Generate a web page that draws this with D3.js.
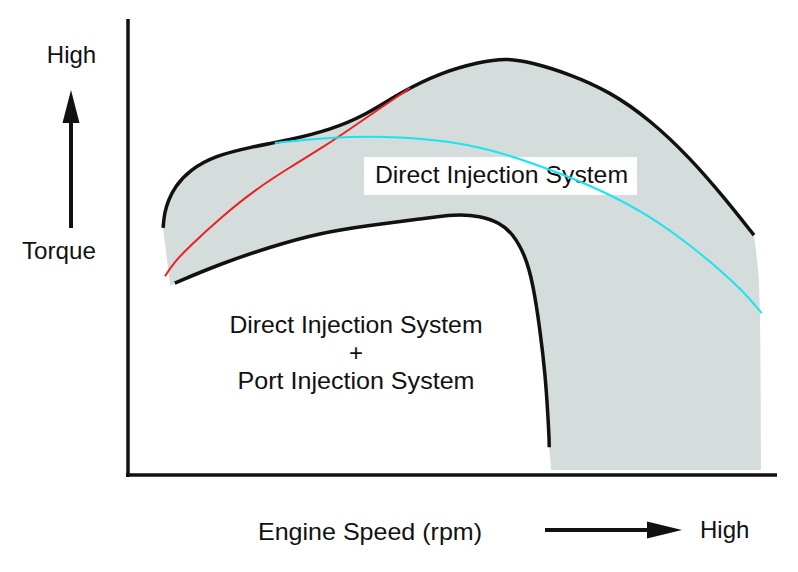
<!DOCTYPE html>
<html>
<head>
<meta charset="utf-8">
<script src="https://cdn.jsdelivr.net/npm/d3@7"></script>
<style>
  html, body { margin: 0; padding: 0; background: #fff; }
  svg { display: block; }
  text { font-family: "Liberation Sans", Arial, sans-serif; fill: #111; }
</style>
</head>
<body>
<svg id="chart" width="798" height="572"></svg>
<script>
// ---- Data (engine speed % of range, torque % of range) ----
const upperSpeed  = [5.4, 5.6, 6.2, 7.2, 9.5, 13.4, 18.8, 24.9, 31.1, 36.5, 41.8, 48.0, 54.2, 58.0, 61.8, 68.0, 74.2, 80.3, 86.5, 91.8, 96.3];
const upperTorque = [54.2, 57.5, 60.2, 63.2, 66.9, 70.0, 71.9, 73.5, 75.7, 78.9, 83.8, 88.2, 90.6, 91.4, 90.6, 87.9, 84.0, 77.9, 69.5, 60.7, 52.6];

const lowerSpeed  = [7.2, 14.2, 21.8, 29.5, 37.2, 44.9, 50.3, 54.2, 57.2, 59.2, 61.1, 62.3, 63.4, 64.2, 64.6, 64.8, 64.8];
const lowerTorque = [42.1, 46.3, 50.0, 53.1, 54.8, 56.1, 57.2, 56.8, 55.3, 52.9, 48.2, 42.1, 31.8, 21.9, 13.2, 7.5, 6.1];

const edgeSpeed   = [96.3, 96.9, 97.2, 97.4];
const edgeTorque  = [52.6, 45.6, 36.2, 1.1];
const floorSpeed  = [97.4, 65.1];
const floorTorque = [1.1, 1.1];
const leftSpeed   = [7.2, 6.5, 5.4];
const leftTorque  = [42.1, 41.4, 54.2];

const redSpeed    = [5.7, 7.0, 9.5, 14.2, 19.5, 24.9, 30.3, 35.7, 39.5, 42.5, 43.4];
const redTorque   = [43.6, 46.5, 50.2, 56.4, 62.5, 67.5, 72.1, 77.4, 81.1, 84.0, 84.9];

const cyanSpeed   = [22.6, 31.1, 39.5, 48.0, 55.7, 63.4, 71.1, 78.8, 84.9, 91.1, 94.9, 97.5];
const cyanTorque  = [72.8, 74.1, 74.3, 73.5, 71.5, 67.8, 63.6, 58.1, 52.2, 45.0, 39.9, 35.5];

const labelDI     = "Direct Injection System";
const labelBoth   = ["Direct Injection System", "+", "Port Injection System"];
const labelYHigh  = "High";
const labelYAxis  = "Torque";
const labelXAxis  = "Engine Speed (rpm)";
const labelXHigh  = "High";

// ---- Scales ----
const svg = d3.select("#chart");
const x = d3.scaleLinear().domain([0, 100]).range([128, 778]);
const y = d3.scaleLinear().domain([0, 100]).range([475, 19]);

const zip = (a, b) => a.map((v, i) => [v, b[i]]);
const smooth = d3.line().x(d => x(d[0])).y(d => y(d[1])).curve(d3.curveBasis);
const soft = d3.line().x(d => x(d[0])).y(d => y(d[1])).curve(d3.curveCatmullRom.alpha(0.5));
const straight = d3.line().x(d => x(d[0])).y(d => y(d[1]));

const upper = zip(upperSpeed, upperTorque);
const lower = zip(lowerSpeed, lowerTorque);
const edge = zip(edgeSpeed, edgeTorque);
const floor = zip(floorSpeed, floorTorque);
const left = zip(leftSpeed, leftTorque);

// ---- Grey region ----
const join = (s) => s.replace(/^M/, "L");
const regionPath =
  smooth(upper) +
  join(soft(edge)) +
  join(straight(floor)) +
  join(smooth(lower.slice().reverse())) +
  join(straight(left)) + "Z";

svg.append("path").attr("d", regionPath).attr("fill", "#d4dcdc").attr("stroke", "none");

// ---- Label box for Direct Injection ----
const boxG = svg.append("g");
boxG.append("rect")
  .attr("x", 364).attr("y", 157).attr("width", 273).attr("height", 38)
  .attr("fill", "#fff");
boxG.append("text")
  .attr("x", 375).attr("y", 183)
  .attr("font-size", 24)
  .attr("textLength", 253).attr("lengthAdjust", "spacingAndGlyphs")
  .text(labelDI);

// ---- Boundary curves ----
svg.append("path").attr("d", smooth(upper))
  .attr("fill", "none").attr("stroke", "#111").attr("stroke-width", 3.5);
svg.append("path").attr("d", smooth(lower))
  .attr("fill", "none").attr("stroke", "#111").attr("stroke-width", 3.5);

// ---- Red and cyan curves ----
svg.append("path").attr("d", smooth(zip(redSpeed, redTorque)))
  .attr("fill", "none").attr("stroke", "#e8231d").attr("stroke-width", 2);
svg.append("path").attr("d", smooth(zip(cyanSpeed, cyanTorque)))
  .attr("fill", "none").attr("stroke", "#1ae4ef").attr("stroke-width", 2);

// ---- Axes ----
svg.append("line")
  .attr("x1", x(0)).attr("x2", x(0)).attr("y1", y(100)).attr("y2", y(0) + 2)
  .attr("stroke", "#111").attr("stroke-width", 3.5);
svg.append("line")
  .attr("x1", x(0) - 2).attr("x2", x(100) - 1).attr("y1", y(0)).attr("y2", y(0))
  .attr("stroke", "#111").attr("stroke-width", 3.5);

// ---- Lower-left region label ----
const bothLen = [253, null, 237];
const bothG = svg.append("g").attr("text-anchor", "middle");
bothG.selectAll("text").data(labelBoth).enter().append("text")
  .attr("x", 356)
  .attr("y", (d, i) => 333 + i * 28)
  .attr("font-size", 24)
  .each(function (d, i) {
    if (bothLen[i]) d3.select(this).attr("textLength", bothLen[i]).attr("lengthAdjust", "spacingAndGlyphs");
  })
  .text(d => d);

// ---- Y-axis annotation ----
svg.append("text").attr("x", 71.5).attr("y", 63).attr("text-anchor", "middle")
  .attr("font-size", 24).text(labelYHigh);
svg.append("text").attr("x", 59).attr("y", 259).attr("text-anchor", "middle")
  .attr("font-size", 24).attr("textLength", 74).attr("lengthAdjust", "spacingAndGlyphs")
  .text(labelYAxis);
svg.append("line").attr("x1", 71).attr("x2", 71).attr("y1", 228).attr("y2", 118)
  .attr("stroke", "#111").attr("stroke-width", 4);
svg.append("path").attr("d", "M71,90 L79.5,123 L62.5,123 Z").attr("fill", "#111");

// ---- X-axis annotation ----
svg.append("text").attr("x", 258).attr("y", 540)
  .attr("font-size", 24).attr("textLength", 224).attr("lengthAdjust", "spacingAndGlyphs")
  .text(labelXAxis);
svg.append("line").attr("x1", 545).attr("x2", 652).attr("y1", 530).attr("y2", 530)
  .attr("stroke", "#111").attr("stroke-width", 4);
svg.append("path").attr("d", "M682,530 L647,521.5 L647,538.5 Z").attr("fill", "#111");
svg.append("text").attr("x", 700).attr("y", 538)
  .attr("font-size", 24).text(labelXHigh);
</script>
</body>
</html>
